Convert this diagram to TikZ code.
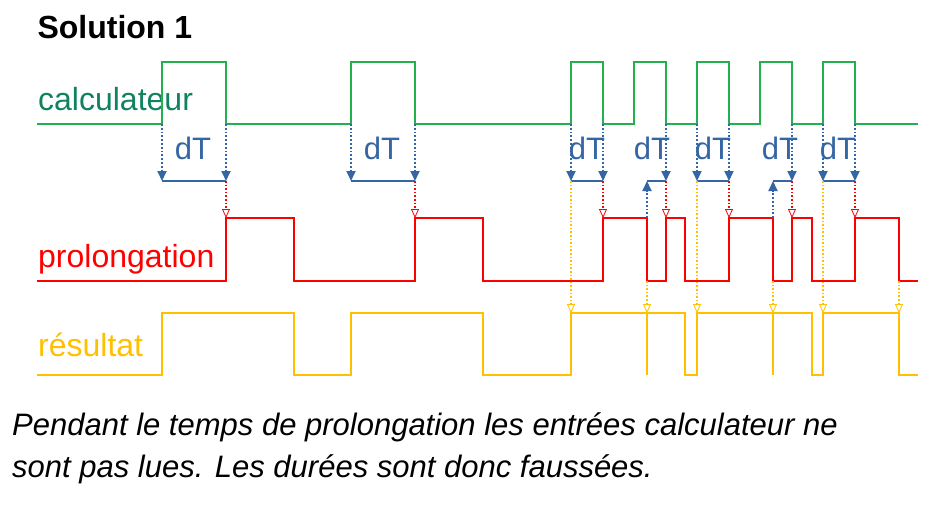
\documentclass[tikz,border=0pt]{standalone}
\usepackage{fontspec}
\setmainfont{Liberation Sans}
\usetikzlibrary{arrows.meta}
\definecolor{calc}{RGB}{34,177,76}
\definecolor{calctxt}{RGB}{16,130,96}
\definecolor{prol}{RGB}{255,0,0}
\definecolor{res}{RGB}{255,192,0}
\definecolor{dtblue}{RGB}{52,101,164}
\tikzset{
  wave/.style={line width=2.2pt},
  dtline/.style={dtblue,line width=1.8pt,dotted,-{Triangle[width=9pt,length=10pt]}},
  prolline/.style={prol,line width=1.6pt,dotted,-{Triangle[open,width=8pt,length=9pt,line width=0.8pt]}},
  resline/.style={res,line width=1.6pt,dotted,-{Triangle[open,width=8pt,length=9pt,line width=0.8pt]}},
  big/.style={font=\fontsize{32}{38}\selectfont},
}
\begin{document}
\begin{tikzpicture}[x=1pt,y=-1pt]
  \useasboundingbox (0,0) rectangle (946,517);

  % titre et noms des signaux
  \node[big,font=\fontsize{32}{38}\selectfont\bfseries,anchor=west] (title) at (34,27) {Solution 1};
  \node[big,text=calctxt,anchor=base west,inner sep=0] (lcalc) at (38,110) {calculateur};
  \node[big,text=prol,anchor=base west,inner sep=0] (lprol) at (38,267) {prolongation};
  \node[big,text=res,anchor=base west,inner sep=0] (lres) at (38,356) {résultat};

  % calculateur
  \draw[wave,calc] (37,124) \foreach \a/\b in {162/226,351/415,571/603,634/666,697/729,760/792,823/855}
    { -- (\a,124) -- (\a,62) -- (\b,62) -- (\b,124) } -- (918,124);

  % prolongation
  \draw[wave,prol] (37,281) \foreach \a/\b in {226/294,415/483,603/647,666/685,729/773,792/812,855/899}
    { -- (\a,281) -- (\a,218) -- (\b,218) -- (\b,281) } -- (918,281);

  % resultat
  \draw[wave,res] (37,375) \foreach \a/\b in {162/294,351/483,571/685,697/812,823/899}
    { -- (\a,375) -- (\a,313) -- (\b,313) -- (\b,375) } -- (918,375);
  \foreach \x in {647,773}
    \draw[wave,res] (\x,313) -- (\x,375);

  % dT : fronts montants
  \foreach \a/\b in {162/226,351/415,571/603,697/729,823/855} {
    \draw[dtline] (\a,124) -- (\a,181);
    \draw[dtline] (\b,124) -- (\b,181);
    \draw[dtblue,line width=1.6pt] (\a,181) -- (\b,181);
  }
  % dT : relance pendant la prolongation
  \foreach \a/\b in {647/666,773/792} {
    \draw[dtline] (\a,218) -- (\a,181);
    \draw[dtline] (\b,124) -- (\b,181);
    \draw[dtblue,line width=1.6pt] (\a,181) -- (\b,181);
  }
  \foreach \x/\n in {193/1,382/2,587/3,652/4,713/5,780/6,838/7}
    \node[big,text=dtblue,font=\fontsize{31}{36}\selectfont] (dt\n) at (\x,148) {dT};

  % vers prolongation
  \foreach \x in {226,415,603,666,729,792,855}
    \draw[prolline] (\x,181) -- (\x,218);

  % vers resultat
  \foreach \x in {571,697,823}
    \draw[resline] (\x,181) -- (\x,313);
  \foreach \x in {647,773,899}
    \draw[resline] (\x,281) -- (\x,313);

  % commentaire
  \node[big,font=\fontsize{31}{42}\selectfont\itshape,anchor=north west,align=left,inner sep=0] (note) at (12,412)
    {Pendant le temps de prolongation les entrées calculateur ne\\sont pas lues. Les durées sont donc faussées.};
\end{tikzpicture}
\end{document}
